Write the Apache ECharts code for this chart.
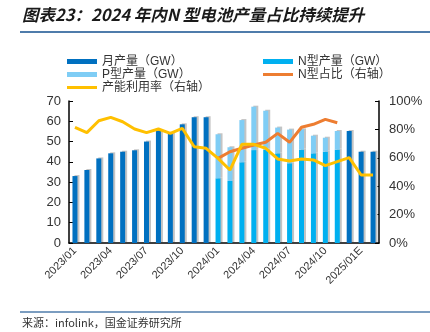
<!DOCTYPE html>
<html><head><meta charset="utf-8">
<script src="https://cdn.jsdelivr.net/npm/echarts@6/dist/echarts.min.js"></script>
<style>html,body{margin:0;padding:0;background:#fff}#c{width:430px;height:332px}</style>
</head><body><div id="c"></div>
<script>
const months = ['2023/01','2023/02','2023/03','2023/04','2023/05','2023/06','2023/07','2023/08','2023/09','2023/10','2023/11','2023/12',
 '2024/01','2024/02','2024/03','2024/04','2024/05','2024/06','2024/07','2024/08','2024/09','2024/10','2024/11','2024/12','2025/01E','2025/02E'];
const monthlyOutput = [33,36,41.7,44.2,45,45.7,50,55.4,53.8,58.5,62,62,
 null,null,null,null,null,null,null,null,null,null,null,55.2,45,45];
const nTypeOutput = [null,null,null,null,null,null,null,null,null,null,null,null,
 31.9,30.6,39.8,45.8,46,44.2,39.3,46,44.2,45,46,null,null,null];
const pTypeOutput = [null,null,null,null,null,null,null,null,null,null,null,null,
 21.7,16.6,20.8,21.4,19.2,12.7,16.6,10,8.7,6.9,9.2,null,null,null];
const nTypeShare = [null,null,null,null,null,null,null,null,null,null,null,null,
 59.6,64.3,66.7,69,70.9,77.2,70.9,81.5,83.6,87.1,84.7,null,null,null];
const utilization = [81.5,77.7,86.1,88.5,85.4,80.3,77.7,80.3,77.2,80.8,67.8,66.7,
 59.6,51.4,69.5,69.5,66.7,59.2,57.7,59.2,58.5,54.5,57.3,60.1,47.9,47.9];
const leftTicks = [0,70,10];
const rightTicks = [0,100,20];

const chart = echarts.init(document.getElementById('c'), null, {renderer:'canvas'});
const shadow = {shadowColor:'#c4c4c4', shadowBlur:0, shadowOffsetX:2, shadowOffsetY:-1};
const font = 'Liberation Sans, Arial, Noto Sans CJK SC, sans-serif';
const lineIcon = 'path://M0,0L30,0L30,3L0,3Z';
chart.setOption({
  animation:false,
  textStyle:{fontFamily:font},
  grid:{left:69,right:51,top:101,bottom:89,containLabel:false},
  graphic:[
    {type:'text',left:22,top:6,style:{text:'图表23：2024 年内N 型电池产量占比持续提升',fontSize:16.5,fontStyle:'italic',fontWeight:'bold',fontFamily:'Noto Sans CJK SC',fill:'#1a1a1a'}},
    {type:'line',shape:{x1:20,y1:32,x2:430,y2:32},style:{stroke:'#4f7cab',lineWidth:2}},
    {type:'line',shape:{x1:20,y1:312,x2:430,y2:312},style:{stroke:'#4f7cab',lineWidth:1.5}},
    {type:'text',left:22,top:317,style:{text:'来源：infolink，国金证券研究所',fontSize:11,fontFamily:'Noto Sans CJK SC',fill:'#333'}}
  ],
  legend:[
    {orient:'vertical',left:62,top:50,itemWidth:30,itemHeight:5,itemGap:0,
     textStyle:{fontSize:12,color:'#333',lineHeight:13,fontFamily:font},
     data:[{name:'月产量（GW）',icon:'rect'},{name:'P型产量（GW）',icon:'rect'},{name:'产能利用率（右轴）',icon:lineIcon}]},
    {orient:'vertical',left:258,top:50,itemWidth:30,itemHeight:5,itemGap:0,
     textStyle:{fontSize:12,color:'#333',lineHeight:13,fontFamily:font},
     data:[{name:'N型产量（GW）',icon:'rect'},{name:'N型占比（右轴）',icon:lineIcon}]}
  ],
  xAxis:{type:'category',data:months,boundaryGap:true,
    axisLine:{lineStyle:{color:'#000',width:1.5}},
    axisTick:{inside:true,length:4,interval:2,lineStyle:{color:'#000'}},
    axisLabel:{interval:2,rotate:45,fontSize:11,color:'#333',margin:6}},
  yAxis:[
    {type:'value',min:leftTicks[0],max:leftTicks[1],interval:leftTicks[2],
     axisLine:{show:true,lineStyle:{color:'#000',width:1.5}},
     axisTick:{show:true,inside:true,length:4,lineStyle:{color:'#000'}},
     splitLine:{show:false},
     axisLabel:{fontSize:13,color:'#333',margin:8}},
    {type:'value',min:rightTicks[0],max:rightTicks[1],interval:rightTicks[2],
     axisLine:{show:true,lineStyle:{color:'#000',width:1.5}},
     axisTick:{show:true,inside:true,length:4,lineStyle:{color:'#000'}},
     splitLine:{show:false},
     axisLabel:{fontSize:13,color:'#333',margin:10,formatter:'{value}%'}}
  ],
  series:[
    {name:'月产量（GW）',type:'bar',stack:'m',barWidth:5,barGap:'-100%',data:monthlyOutput,itemStyle:Object.assign({color:'#0070C0'},shadow)},
    {name:'N型产量（GW）',type:'bar',stack:'np',barWidth:5,barGap:'-100%',data:nTypeOutput,itemStyle:Object.assign({color:'#00B0F0'},shadow)},
    {name:'P型产量（GW）',type:'bar',stack:'np',barWidth:5,barGap:'-100%',data:pTypeOutput,itemStyle:Object.assign({color:'#7FCDF5'},shadow)},
    {name:'N型占比（右轴）',type:'line',yAxisIndex:1,data:nTypeShare,symbol:'none',lineStyle:{color:'#ED7D31',width:3},itemStyle:{color:'#ED7D31'}},
    {name:'产能利用率（右轴）',type:'line',yAxisIndex:1,data:utilization,symbol:'none',lineStyle:{color:'#FFC000',width:3},itemStyle:{color:'#FFC000'}}
  ]
});
</script></body></html>
